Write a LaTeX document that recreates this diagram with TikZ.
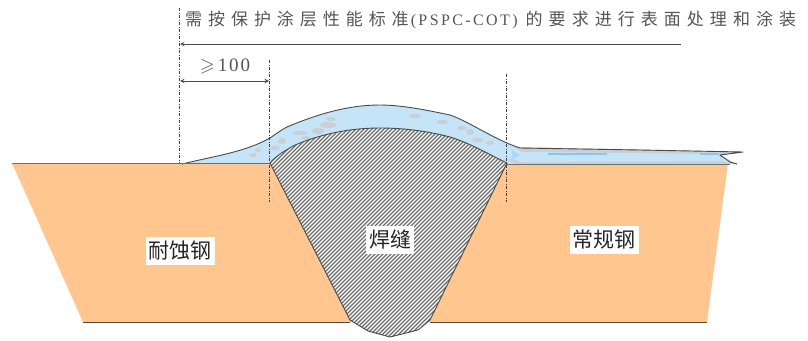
\documentclass[tikz,border=0pt]{standalone}
\usepackage{amssymb}
\usepackage{fontspec}
\newfontfamily\cjk[Scale=1]{Noto Sans CJK SC}
\newfontfamily\cjkwide[LetterSpace=35]{Noto Sans CJK SC}
\newfontfamily\cjkwideb[LetterSpace=35.5]{Noto Sans CJK SC}
\newfontfamily\serifwide[LetterSpace=15]{Liberation Serif}
\newfontfamily\serifnum[LetterSpace=10]{Liberation Serif}
\definecolor{steel}{HTML}{FFC78F}
\definecolor{coat}{HTML}{C6E4F8}
\definecolor{coatgrey}{HTML}{C9CFD4}
\definecolor{coatblue}{HTML}{8CC4F0}
\definecolor{edge}{HTML}{4A4A48}
\definecolor{txt}{HTML}{555555}
\tikzset{
  guide/.style={draw=black!75,line width=0.7pt,dash pattern=on 3pt off 1.5pt on 1pt off 1.5pt},
  label/.style={fill=white,inner xsep=3pt,inner ysep=4pt,font=\cjk\fontsize{21}{21}\selectfont,text=black!85},
  dim/.style={draw=edge,line width=1pt},
  blotch/.style={fill=coatgrey,draw=none}
}
\begin{document}
\begin{tikzpicture}[x=1pt,y=-1pt,>=stealth]
\useasboundingbox (0,0) rectangle (808,340);
% base metal
\fill[steel] (12,163) -- (728,163) -- (707,322) -- (83,322) -- cycle;
% coating
\path[fill=coat] (182,164)
  .. controls (215,156) and (245,152) .. (270,138)
  .. controls (276,134) and (281,130) .. (287,127)
  .. controls (320,113) and (350,105) .. (380,105)
  .. controls (405,105) and (435,112) .. (450,115)
  .. controls (470,122) and (495,140) .. (520,148)
  -- (640,150) -- (743,152) -- (720,155) -- (737,164) -- cycle;
% grey bands and blue streaks of the coating
\fill[coatgrey] (514,147) -- (640,149.5) -- (743,152) -- (720,155) -- (722,161) -- (737,164) -- (515,164) -- (508,160) -- (524,153) -- cycle;
\fill[coat] (526,152) -- (718,154) -- (722,161) -- (520,162) -- (509,157) -- cycle;
\draw[coatblue,line width=1.2pt] (548,154) -- (607,154) (700,154) -- (718,154);
\fill[coatblue!70] (512,150) -- (520,155) -- (512,160) -- cycle;
\foreach \x/\y/\a/\b in {300/133/7/2,318/131/6/3,328/125/8/3,306/138/5/2,331/119/5/2,282/141/4/3,275/148/5/2,253/155/4/2,258/150/3/2,415/116/6/2,442/122/6/2,462/128/5/2,478/140/6/2,490/143/4/2,470/132/4/3}
  \fill[blotch] (\x,\y) ellipse[x radius=\a,y radius=\b];
% outline of coating
\draw[edge,line width=0.9pt,line join=round] (182,164)
  .. controls (215,156) and (245,152) .. (270,138)
  .. controls (276,134) and (281,130) .. (287,127)
  .. controls (320,113) and (350,105) .. (380,105)
  .. controls (405,105) and (435,112) .. (450,115)
  .. controls (470,122) and (495,140) .. (520,148)
  -- (640,150) -- (743,152) -- (720,155) -- (730,162) -- (737,164);
% weld
\def\weldpath{(270,163)
  .. controls (276,156) and (283,152) .. (293,146)
  .. controls (320,134) and (350,128) .. (380,128)
  .. controls (410,128) and (435,133) .. (450,137)
  .. controls (470,143) and (490,155) .. (507,163)
  -- (430,320) -- (418,330) -- (390,337) -- (368,331) -- (350,320) -- cycle}
\fill[white] \weldpath;
\begin{scope}
  \clip \weldpath;
  \foreach \i in {80,84,...,420}
    \draw[black!58,line width=1.25pt] (\i,345) -- (\i+230,115);
\end{scope}
\draw[edge,line width=0.9pt,line join=round] (270,163)
  .. controls (276,156) and (283,152) .. (293,146)
  .. controls (320,134) and (350,128) .. (380,128)
  .. controls (410,128) and (435,133) .. (450,137)
  .. controls (470,143) and (490,155) .. (507,163)
  -- (430,320) -- (418,330) -- (390,337) -- (368,331) -- (350,320) -- cycle;
% surface and bottom lines
\draw[edge!80,line width=1pt] (12,163.5) -- (270,163.5) (507,164) -- (730,164);
\draw[black!65!steel,line width=1pt] (83,322) -- (350,322) (430,322) -- (707,322);
% guides
\coordinate (g1a) at (179,8);   \coordinate (g1b) at (179,163);
\coordinate (g2a) at (269,60);  \coordinate (g2b) at (269,202);
\coordinate (g3a) at (506,74);  \coordinate (g3b) at (506,202);
\draw[guide] (g1a) -- (g1b);
\draw[guide] (g2a) -- (g2b);
\draw[guide] (g3a) -- (g3b);
% dimension arrows
\coordinate (a1) at (681,44); \coordinate (a2) at (180,44);
\draw[dim,->] (a1) -- (a2);
\coordinate (d1) at (180,81); \coordinate (d2) at (269,81);
\draw[dim,<->] (d1) -- (d2);
% texts
\node[anchor=west,inner sep=0pt,text=txt] (top) at (185,20)
 {\cjkwide\fontsize{17}{17}\selectfont 需按保护涂层性能标准\hspace{2pt}{\serifwide\fontsize{16}{16}\selectfont(PSPC-COT)}\hspace{8pt}{\cjkwideb 的要求进行表面处理和涂装}};
\node[inner sep=0pt,text=txt] (ge) at (225,66) {\fontsize{19}{19}\selectfont$\geqslant$\,{\serifnum 100}};
\node[label] (l1) at (180,251) {耐蚀钢};
\node[label] (l2) at (390,240) {焊缝};
\node[label] (l3) at (604,240) {常规钢};
\end{tikzpicture}
\end{document}
